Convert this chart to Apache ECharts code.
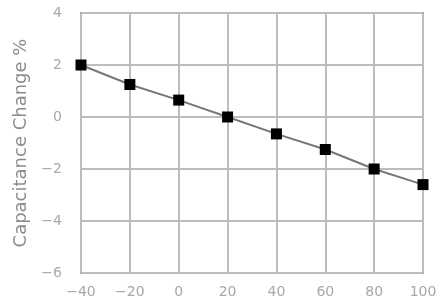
<!DOCTYPE html>
<html>
<head>
<meta charset="utf-8">
<script src="https://cdn.jsdelivr.net/npm/echarts@6/dist/echarts.min.js"></script>
<style>
  html, body { margin: 0; padding: 0; background: #fff; }
  #chart { width: 448px; height: 299px; }
</style>
</head>
<body>
<div id="chart"></div>
<script>
// temperature (°C) vs capacitance change (%)
const temperatures = [-40, -20, 0, 20, 40, 60, 80, 100];
const capChange = [2.0, 1.25, 0.65, 0.0, -0.65, -1.25, -2.0, -2.6];

const chart = echarts.init(document.getElementById("chart"));

const option = {
  animation: false,
  grid: {
    left: 81,
    right: 25,
    top: 13,
    bottom: 25,
    show: true,
    borderColor: "#8a8a8a",
    borderWidth: 2,
  },
  xAxis: {
    type: "value",
    min: -40,
    max: 100,
    interval: 20,
    axisLine: { show: false },
    axisTick: { show: false },
    splitLine: { lineStyle: { color: "#bdbdbd", width: 2 } },
    axisLabel: {
      color: "#a8a8a8",
      fontSize: 14,
      fontFamily: "DejaVu Sans",
      margin: 12,
      formatter: (v) => String(v).replace("-", "\u2212"),
    },
  },
  yAxis: {
    type: "value",
    min: -6,
    max: 4,
    interval: 2,
    name: "Capacitance Change %",
    nameLocation: "middle",
    nameGap: 47,
    nameTextStyle: {
      color: "#8c8c8c",
      fontSize: 18,
      fontFamily: "DejaVu Sans",
    },
    axisLine: { show: false },
    axisTick: { show: false },
    splitLine: { lineStyle: { color: "#bdbdbd", width: 2 } },
    axisLabel: {
      color: "#a8a8a8",
      fontSize: 14,
      fontFamily: "DejaVu Sans",
      margin: 19,
      formatter: (v) => String(v).replace("-", "\u2212"),
    },
  },
  series: [
    {
      type: "line",
      data: temperatures.map((t, i) => [t, capChange[i]]),
      symbol: "rect",
      symbolSize: 11,
      itemStyle: { color: "#000" },
      lineStyle: { color: "#777", width: 2 },
    },
  ],
};

chart.setOption(option);
</script>
</body>
</html>
